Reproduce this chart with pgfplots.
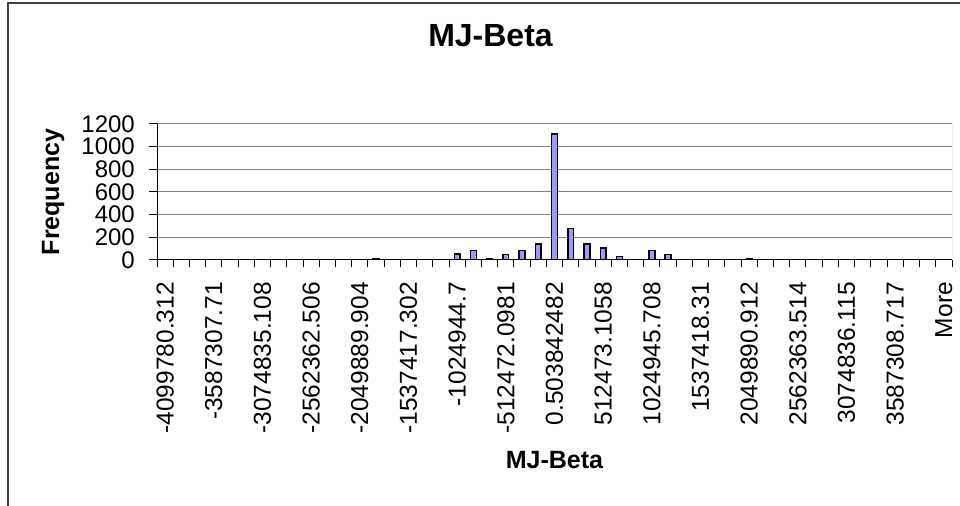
\documentclass[border=0pt]{standalone}
\usepackage{fontspec}
\setmainfont{Liberation Sans}
\usepackage{pgfplots}
\pgfplotsset{compat=1.18}
\definecolor{barfill}{HTML}{9999FF}
\definecolor{gridgray}{HTML}{808080}
\definecolor{framegray}{HTML}{404040}
\begin{document}
\begin{tikzpicture}
\useasboundingbox (0,0) rectangle (960bp,506bp);
\clip (0,0) rectangle (960bp,506bp);
% chart frame (only left and top edges fall inside the page)
\draw[framegray, line width=2bp] (8bp,-10bp) -- (8bp,502.5bp) -- (975bp,502.5bp);
\begin{axis}[
  at={(157bp,246bp)}, anchor=south west,
  scale only axis, width=795bp, height=136bp,
  xmin=-0.5, xmax=48.5, ymin=0, ymax=1200,
  ybar,
  axis x line*=bottom, axis y line*=left,
  axis line style={black, line width=1bp, -},
  tick align=outside,
  ytick={0,200,...,1200},
  major tick length=8bp,
  ytick style={black, line width=1bp},
  xtick={0,3,...,48},
  major x tick style={draw=none},
  minor xtick={-0.5,0.5,...,48.5},
  minor tick length=7bp,
  minor x tick style={black, line width=1bp},
  xticklabels={-4099780.312,-3587307.71,-3074835.108,-2562362.506,-2049889.904,-1537417.302,-1024944.7,-512472.0981,0.503842482,512473.1058,1024945.708,1537418.31,2049890.912,2562363.514,3074836.115,3587308.717,More},
  /pgf/number format/1000 sep={},
  /pgf/number format/assume math mode=true,
  xticklabel style={font=\fontsize{24.5bp}{24.5bp}\selectfont, rotate=90, anchor=east, inner sep=0pt},
  yticklabel style={font=\fontsize{24bp}{24bp}\selectfont, anchor=east, inner sep=0pt, xshift=-14bp},
  xticklabel shift=14bp,
  ymajorgrids,
  major grid style={gridgray, line width=1bp},
  title={MJ-Beta},
  title style={at={(axis description cs:0.4195,1.603)}, anchor=center, font=\bfseries\fontsize{32bp}{32bp}\selectfont},
  xlabel={MJ-Beta},
  xlabel style={at={(axis description cs:0.5,-1.47)}, anchor=center, font=\bfseries\fontsize{25bp}{25bp}\selectfont},
  ylabel={Frequency},
  ylabel style={at={(axis description cs:-0.1308,0.5)}, anchor=center, font=\bfseries\fontsize{25bp}{25bp}\selectfont},
]
% plot-area edge on the right
\draw[gridgray, line width=1bp] (rel axis cs:1,0) -- (rel axis cs:1,1);
\addplot[ybar, bar width=5.8bp, fill=barfill, draw=black, line width=1.5bp]
  coordinates {(13,12) (18,55) (19,82) (20,12) (21,50) (22,85) (23,140)
               (24,1110) (25,280) (26,140) (27,105) (28,30) (30,85) (31,50) (36,12)};
\end{axis}
\end{tikzpicture}
\end{document}
